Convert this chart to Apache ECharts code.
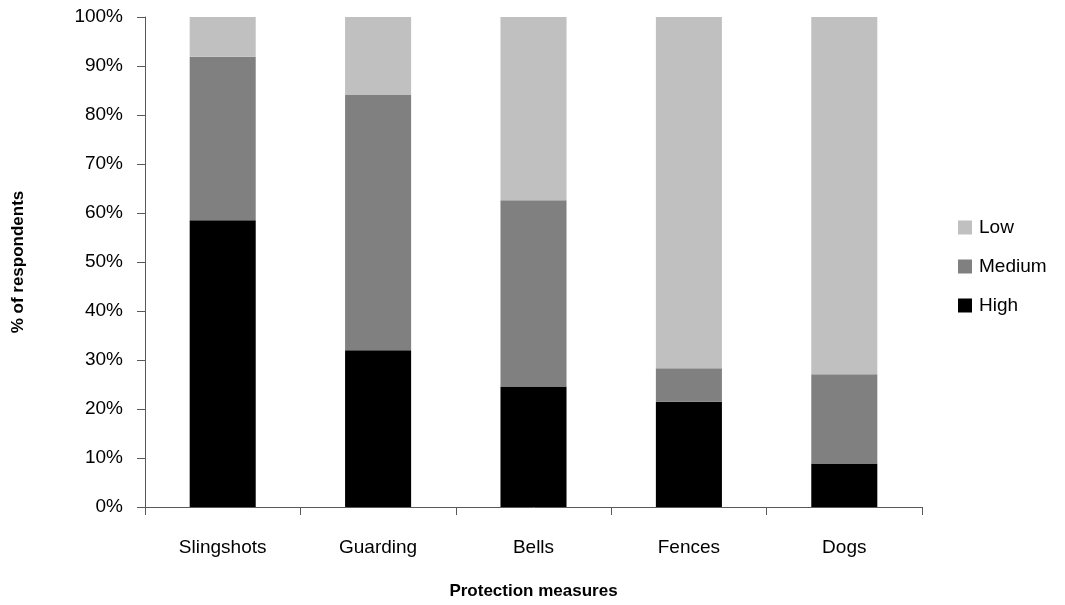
<!DOCTYPE html>
<html>
<head>
<meta charset="utf-8">
<script src="https://cdn.jsdelivr.net/npm/echarts@6/dist/echarts.min.js"></script>
<style>html,body{margin:0;padding:0;background:#fff}#c{width:1065px;height:605px}</style>
</head>
<body>
<div id="c"></div>
<script>
var categories = ['Slingshots', 'Guarding', 'Bells', 'Fences', 'Dogs'];
var high = [58.5, 32.0, 24.6, 21.5, 8.9];
var medium = [33.4, 52.1, 38.0, 6.8, 18.2];
var low = [8.1, 15.9, 37.4, 71.7, 72.9];
var yTicks = [0, 10, 20, 30, 40, 50, 60, 70, 80, 90, 100];

var FONT = 'Liberation Sans';
var AXIS = '#595959';
var chart = echarts.init(document.getElementById('c'));
function ser(name, data, color) {
  return {
    name: name, type: 'bar', stack: 'all', data: data, barWidth: '42.5%',
    itemStyle: { color: color, borderWidth: 0 },
    emphasis: { disabled: true }
  };
}
chart.setOption({
  animation: false,
  textStyle: { fontFamily: FONT },
  grid: { left: 145, right: 143, top: 17, bottom: 97 },
  legend: {
    orient: 'vertical', left: 953, top: 213, itemGap: 20,
    itemWidth: 14, itemHeight: 14, icon: 'rect',
    itemStyle: { borderWidth: 0 },
    data: ['Low', 'Medium', 'High'],
    textStyle: { fontFamily: FONT, fontSize: 19, color: '#000', padding: [0, 0, 0, 2] }
  },
  xAxis: {
    type: 'category', data: categories,
    name: 'Protection measures', nameLocation: 'middle', nameGap: 76,
    nameTextStyle: { fontFamily: FONT, fontSize: 17, fontWeight: 'bold', color: '#000' },
    axisLine: { lineStyle: { color: AXIS, width: 1 } },
    axisTick: { show: true, inside: false, length: 8, lineStyle: { color: AXIS } },
    axisLabel: { fontFamily: FONT, fontSize: 19, color: '#000', margin: 31 }
  },
  yAxis: {
    type: 'value', min: 0, max: 100, interval: 10,
    name: '% of respondents', nameLocation: 'middle', nameGap: 118, nameRotate: 90,
    nameTextStyle: { fontFamily: FONT, fontSize: 17, fontWeight: 'bold', color: '#000' },
    axisLine: { show: true, lineStyle: { color: AXIS, width: 1 } },
    axisTick: { show: true, inside: false, length: 8, lineStyle: { color: AXIS } },
    splitLine: { show: false },
    axisLabel: {
      fontFamily: FONT, fontSize: 19, color: '#000', margin: 22,
      formatter: function (v) { return yTicks.indexOf(v) >= 0 ? v + '%' : ''; }
    }
  },
  series: [
    ser('High', high, '#000000'),
    ser('Medium', medium, '#808080'),
    ser('Low', low, '#C0C0C0')
  ]
});
</script>
</body>
</html>
